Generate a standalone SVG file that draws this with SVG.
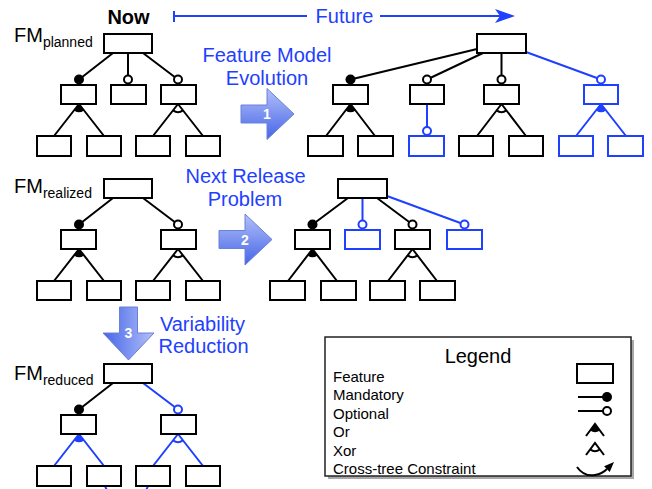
<svg xmlns="http://www.w3.org/2000/svg" xmlns:xlink="http://www.w3.org/1999/xlink" width="652" height="489" viewBox="0 0 652 489">
<style>
text{font-family:"Liberation Sans",Arial,Helvetica,sans-serif}
.f{fill:#fff;stroke:#000;stroke-width:2}
.fb{fill:#fff;stroke:#1e40ff;stroke-width:2}
.l{stroke:#000;stroke-width:2;fill:none}
.lb{stroke:#1e40ff;stroke-width:2;fill:none}
.m{fill:#000}
.mb{fill:#1e40ff}
.o{fill:#fff;stroke:#000;stroke-width:2}
.ob{fill:#fff;stroke:#1e40ff;stroke-width:2}
.blue{fill:#1e40ff;font-size:20px}
.fm{font-size:20px;fill:#000}
.sub{font-size:14px;fill:#000}
.num{fill:#fff;font-size:14px;font-weight:bold;text-anchor:middle}
.lg{font-size:15px;fill:#000}
</style>
<defs>
<linearGradient id="ag" x1="0" y1="0" x2="0" y2="1">
<stop offset="0" stop-color="#b3c0f8"/>
<stop offset="1" stop-color="#4565e8"/>
</linearGradient>
<path id="bigArrow" d="M0,-9 H26 V-25.5 L53,0 L26,25.5 V9 H0 Z" fill="url(#ag)" stroke="#6b80d8" stroke-width="1"/>
</defs>

<!-- header -->
<g id="header">
<text x="128.5" y="24" font-size="20" font-weight="bold" text-anchor="middle">Now</text>
<path d="M174,11 V22 M174,16 H307 M380,16 H508" class="lb"/>
<path d="M495,9 L515,16 L495,23 L500,16 Z" class="mb"/>
<text x="344.5" y="23" class="blue" text-anchor="middle">Future</text>
</g>

<!-- labels -->
<g id="labels">
<text x="14" y="42" class="fm">FM<tspan class="sub" dy="5">planned</tspan></text>
<text x="14" y="193" class="fm">FM<tspan class="sub" dy="5">realized</tspan></text>
<text x="14" y="380" class="fm">FM<tspan class="sub" dy="5">reduced</tspan></text>
<text x="267" y="62" class="blue" text-anchor="middle">Feature Model</text>
<text x="267" y="85" class="blue" text-anchor="middle">Evolution</text>
<text x="245.5" y="183" class="blue" text-anchor="middle">Next Release</text>
<text x="245" y="206" class="blue" text-anchor="middle">Problem</text>
<text x="202.5" y="331" class="blue" text-anchor="middle">Variability</text>
<text x="203.5" y="353" class="blue" text-anchor="middle">Reduction</text>
</g>

<!-- step arrows -->
<g id="arrow1"><use xlink:href="#bigArrow" href="#bigArrow" transform="translate(241,114)"/><text x="267" y="119" class="num">1</text></g>
<g id="arrow2"><use xlink:href="#bigArrow" href="#bigArrow" transform="translate(219,239.5)"/><text x="245" y="244.5" class="num">2</text></g>
<g id="arrow3"><use xlink:href="#bigArrow" href="#bigArrow" transform="translate(128.5,307) rotate(90)"/><text x="128.5" y="338" class="num">3</text></g>

<!-- connectors -->
<g id="connectors">
<!-- tree planned -->
<path class="l" d="M113,53 L79,79.5 M128,53 V79.5 M143,53 L178,79.5 M79,104 L54,136 M79,104 L104,136 M178,104 L153,136 M178,104 L203,136"/>
<path class="m" d="M79,104 L74.1,110.4 A8 8 0 0 0 83.9,110.4 Z"/>
<path class="l" d="M173.1,110.4 A8 8 0 0 0 182.9,110.4"/>
<circle class="m" cx="79" cy="79.5" r="5"/>
<circle class="o" cx="128" cy="79.5" r="4"/>
<circle class="o" cx="178" cy="79.5" r="4"/>
<!-- tree future -->
<path class="l" d="M477,49 L350.5,79.5 M483,53 L427,79.5 M501.5,53 V79.5 M350.5,104 L326,136 M350.5,104 L375,136 M501.5,104 L477,136 M501.5,104 L526,136"/>
<path class="lb" d="M526,52 L601,79.5 M427,104 V131 M601,104 L576,136 M601,104 L626,136"/>
<path class="m" d="M350.5,104 L345.6,110.4 A8 8 0 0 0 355.4,110.4 Z"/>
<path class="l" d="M496.6,110.4 A8 8 0 0 0 506.4,110.4"/>
<path class="mb" d="M601,104 L596.1,110.4 A8 8 0 0 0 605.9,110.4 Z"/>
<circle class="m" cx="350.5" cy="79.5" r="5"/>
<circle class="o" cx="427" cy="79.5" r="4"/>
<circle class="o" cx="501.5" cy="79.5" r="4"/>
<circle class="ob" cx="601" cy="79.5" r="4"/>
<circle class="ob" cx="427" cy="131" r="4"/>
<!-- tree realized -->
<path class="l" d="M113,198 L79,224.5 M143,198 L178,224.5 M79,249 L54,281 M79,249 L104,281 M178,249 L153,281 M178,249 L203,281"/>
<path class="m" d="M79,249 L74.1,255.4 A8 8 0 0 0 83.9,255.4 Z"/>
<path class="l" d="M173.1,255.4 A8 8 0 0 0 182.9,255.4"/>
<circle class="m" cx="79" cy="224.5" r="5"/>
<circle class="o" cx="178" cy="224.5" r="4"/>
<!-- tree next release -->
<path class="l" d="M348,198 L312.5,224.5 M377,198 L412.5,224.5 M312.5,249 L288,281 M312.5,249 L337,281 M412.5,249 L388,281 M412.5,249 L437,281"/>
<path class="lb" d="M362.5,198 V224.5 M387,196 L464.5,224.5"/>
<path class="m" d="M312.5,249 L307.6,255.4 A8 8 0 0 0 317.4,255.4 Z"/>
<path class="l" d="M407.6,255.4 A8 8 0 0 0 417.4,255.4"/>
<circle class="m" cx="312.5" cy="224.5" r="5"/>
<circle class="ob" cx="362.5" cy="224.5" r="4"/>
<circle class="o" cx="412.5" cy="224.5" r="4"/>
<circle class="ob" cx="464.5" cy="224.5" r="4"/>
<!-- tree reduced -->
<path class="l" d="M113,383 L79,409.5"/>
<path class="lb" d="M143,383 L178,409.5 M79,434 L54,466 M79,434 L104,466 M178,434 L153,466 M178,434 L203,466"/>
<path class="mb" d="M79,434 L74.1,440.4 A8 8 0 0 0 83.9,440.4 Z"/>
<path class="lb" d="M173.1,440.4 A8 8 0 0 0 182.9,440.4"/>
<circle class="m" cx="79" cy="409.5" r="5"/>
<circle class="ob" cx="178" cy="409.5" r="4"/>
<path class="lb" d="M105,486 C112,505 141,505 148,486"/>
</g>

<!-- planned tree nodes -->
<g id="p-root"><rect class="f" x="104" y="34" width="48" height="19"/></g>
<g id="p-a"><rect class="f" x="61" y="85" width="35" height="19"/></g>
<g id="p-b"><rect class="f" x="111" y="85" width="35" height="19"/></g>
<g id="p-c"><rect class="f" x="161" y="85" width="35" height="19"/></g>
<g id="p-a1"><rect class="f" x="37" y="136" width="34" height="20"/></g>
<g id="p-a2"><rect class="f" x="87" y="136" width="34" height="20"/></g>
<g id="p-c1"><rect class="f" x="136" y="136" width="34" height="20"/></g>
<g id="p-c2"><rect class="f" x="186" y="136" width="34" height="20"/></g>

<!-- future tree nodes -->
<g id="f-root"><rect class="f" x="477" y="34" width="49" height="19"/></g>
<g id="f-a"><rect class="f" x="333" y="85" width="35" height="19"/></g>
<g id="f-b"><rect class="f" x="410" y="85" width="34" height="19"/></g>
<g id="f-c"><rect class="f" x="484" y="85" width="35" height="19"/></g>
<g id="f-d"><rect class="fb" x="584" y="85" width="34" height="19"/></g>
<g id="f-a1"><rect class="f" x="308" y="136" width="35" height="20"/></g>
<g id="f-a2"><rect class="f" x="358" y="136" width="35" height="20"/></g>
<g id="f-b1"><rect class="fb" x="409" y="136" width="35" height="20"/></g>
<g id="f-c1"><rect class="f" x="459" y="136" width="34" height="20"/></g>
<g id="f-c2"><rect class="f" x="509" y="136" width="34" height="20"/></g>
<g id="f-d1"><rect class="fb" x="559" y="136" width="34" height="20"/></g>
<g id="f-d2"><rect class="fb" x="608" y="136" width="35" height="20"/></g>

<!-- realized tree nodes -->
<g id="r-root"><rect class="f" x="104" y="179" width="48" height="19"/></g>
<g id="r-a"><rect class="f" x="61" y="230" width="35" height="19"/></g>
<g id="r-c"><rect class="f" x="161" y="230" width="35" height="19"/></g>
<g id="r-a1"><rect class="f" x="37" y="281" width="34" height="19"/></g>
<g id="r-a2"><rect class="f" x="87" y="281" width="34" height="19"/></g>
<g id="r-c1"><rect class="f" x="136" y="281" width="34" height="19"/></g>
<g id="r-c2"><rect class="f" x="186" y="281" width="34" height="19"/></g>

<!-- next release tree nodes -->
<g id="n-root"><rect class="f" x="338" y="179" width="49" height="19"/></g>
<g id="n-a"><rect class="f" x="295" y="230" width="35" height="19"/></g>
<g id="n-b"><rect class="fb" x="345" y="230" width="35" height="19"/></g>
<g id="n-c"><rect class="f" x="395" y="230" width="35" height="19"/></g>
<g id="n-d"><rect class="fb" x="447" y="230" width="35" height="19"/></g>
<g id="n-a1"><rect class="f" x="270" y="281" width="35" height="19"/></g>
<g id="n-a2"><rect class="f" x="321" y="281" width="35" height="19"/></g>
<g id="n-c1"><rect class="f" x="370" y="281" width="35" height="19"/></g>
<g id="n-c2"><rect class="f" x="420" y="281" width="35" height="19"/></g>

<!-- reduced tree nodes -->
<g id="d-root"><rect class="f" x="104" y="364" width="48" height="19"/></g>
<g id="d-a"><rect class="f" x="61" y="415" width="35" height="19"/></g>
<g id="d-c"><rect class="f" x="161" y="415" width="35" height="19"/></g>
<g id="d-a1"><rect class="f" x="37" y="466" width="34" height="20"/></g>
<g id="d-a2"><rect class="f" x="87" y="466" width="34" height="20"/></g>
<g id="d-c1"><rect class="f" x="136" y="466" width="34" height="20"/></g>
<g id="d-c2"><rect class="f" x="186" y="466" width="34" height="20"/></g>

<!-- legend -->
<g id="legend">
<rect x="328" y="340" width="306" height="139" fill="#a8a8a8"/>
<rect x="325" y="337" width="306" height="139" fill="#fff" stroke="#222" stroke-width="1.5"/>
<text x="478" y="363" font-size="20" text-anchor="middle">Legend</text>
<text x="333" y="381.5" class="lg">Feature</text>
<text x="333" y="400" class="lg">Mandatory</text>
<text x="333" y="418.5" class="lg">Optional</text>
<text x="333" y="437" class="lg">Or</text>
<text x="333" y="455.5" class="lg">Xor</text>
<text x="333" y="474" class="lg">Cross-tree Constraint</text>
<rect class="f" x="577" y="364" width="36" height="19"/>
<path class="l" d="M578,397 H604 M578,411 H603"/>
<circle class="m" cx="607" cy="397" r="5"/>
<circle class="o" cx="607" cy="411" r="4"/>
<path class="l" d="M586,436 L595,424 L604,436"/>
<path class="m" d="M595,424 L590.2,430.4 A8 8 0 0 0 599.8,430.4 Z"/>
<path class="l" d="M586,455 L595,443 L604,455 M590.2,449.4 A8 8 0 0 0 599.8,449.4"/>
<path class="l" d="M577,467 Q584,477 595,475 Q602,474 607,469"/>
<path class="m" d="M614,462 L604.1,466.3 L609.7,471.9 Z"/>
</g>
</svg>
